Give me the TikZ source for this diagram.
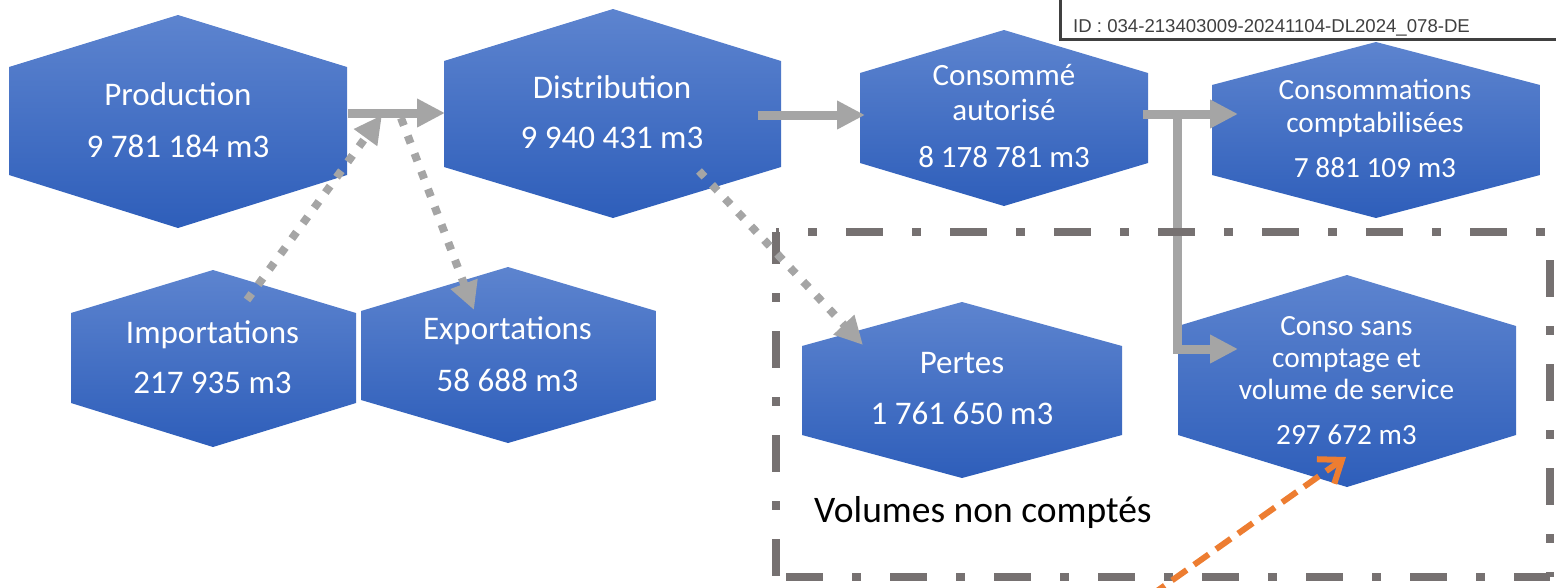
\documentclass[tikz,border=0pt]{standalone}
\usepackage{fontspec}
\setmainfont{Carlito}
\newfontfamily\idfont{Liberation Sans}
\usetikzlibrary{arrows.meta}
\definecolor{hexTop}{RGB}{93,132,207}
\definecolor{hexBot}{RGB}{46,94,186}
\definecolor{arrGrey}{RGB}{165,165,165}
\definecolor{frameGrey}{RGB}{118,113,113}
\definecolor{orangeA}{RGB}{237,125,49}
\definecolor{idGrey}{RGB}{64,64,64}
% name, left, right, cx, ytop, yshoulderTop, yshoulderBottom, ybottom
\newcommand\hexa[8]{%
  \shade[top color=hexTop,bottom color=hexBot] (#2,#6) -- (#4,#5) -- (#3,#6) -- (#3,#7) -- (#4,#8) -- (#2,#7) -- cycle;
  \coordinate (#1) at (#4,{(#5+#8)/2});}
\tikzset{
  lbl/.style={text=white, inner sep=0pt, anchor=base},
  fA/.style={font=\fontsize{33}{33}\selectfont},
  fB/.style={font=\fontsize{31}{31}\selectfont},
  fC/.style={font=\fontsize{29.3}{29.3}\selectfont},
  solidarrow/.style={draw=arrGrey, line width=9pt, -{Triangle[length=28pt,width=27pt]}},
  dotarrow/.style={draw=arrGrey, line width=8pt, dash pattern=on 8pt off 11pt, -{Triangle[length=28pt,width=27pt]}},
  orangearrow/.style={draw=orangeA, line width=6pt, dash pattern=on 18pt off 9pt, -{Straight Barb[length=20pt,width=30pt]}},
  framestyle/.style={draw=frameGrey, line width=8pt, dash pattern=on 37pt off 29pt on 9pt off 29pt}
}
\begin{document}
\begin{tikzpicture}[x=1pt,y=-1pt]
\useasboundingbox (0,0) rectangle (1556,587);
% hexagons
\hexa{prod}{9}{347}{178}{15}{67}{175}{228}
\hexa{dist}{444}{781}{613}{9}{61}{167}{218}
\hexa{cons}{860}{1148}{1004}{30}{73}{163}{206}
\hexa{compt}{1212}{1540}{1376}{42}{85}{175}{218}
\hexa{imp}{71}{356}{213}{270}{313}{403}{447}
\hexa{exp}{361}{656}{508}{267}{311}{400}{443}
\hexa{pertes}{802}{1122}{962}{302}{346}{435}{478}
\hexa{sans}{1178}{1516}{1347}{275}{326}{435}{487}
% texts
\node[lbl,fA] (prodA) at (178,105) {Production};
\node[lbl,fA] (prodB) at (178,157) {9 781 184 m3};
\node[lbl,fA] (distA) at (612,98) {Distribution};
\node[lbl,fA] (distB) at (612,148) {9 940 431 m3};
\node[lbl,fB] (consA) at (1004,85) {Consommé};
\node[lbl,fB] (consB) at (1004,120) {autorisé};
\node[lbl,fB] (consC) at (1004,167) {8 178 781 m3};
\node[lbl,fC] (comptA) at (1375,99) {Consommations};
\node[lbl,fC] (comptB) at (1375,132) {comptabilisées};
\node[lbl,fC] (comptC) at (1375,177) {7 881 109 m3};
\node[lbl,fA] (impA) at (212.5,343) {Importations};
\node[lbl,fA] (impB) at (212.5,393) {217 935 m3};
\node[lbl,fA] (expA) at (507.5,339) {Exportations};
\node[lbl,fA] (expB) at (507.5,391) {58 688 m3};
\node[lbl,fA] (pertA) at (962,373) {Pertes};
\node[lbl,fA] (pertB) at (962,424) {1 761 650 m3};
\node[lbl,fC] (sansA) at (1346.5,335) {Conso sans};
\node[lbl,fC] (sansB) at (1346.5,367) {comptage et};
\node[lbl,fC] (sansC) at (1346.5,399) {volume de service};
\node[lbl,fC] (sansD) at (1346.5,444) {297 672 m3};
% connector end points
\coordinate (prodR) at (348,113);
\coordinate (distL) at (445,113);
\coordinate (distR) at (758,115);
\coordinate (consL) at (865,115);
\coordinate (consR) at (1143,114);
\coordinate (comptL) at (1238,114);
\coordinate (branch) at (1177,110);
\coordinate (sansL) at (1238,349);
\coordinate (impT) at (247,300);
\coordinate (joinA) at (382,115);
\coordinate (joinB) at (401,118);
\coordinate (expT) at (474,310);
\coordinate (distD) at (699,171);
\coordinate (pertT) at (863,345);
\coordinate (orangeS) at (1150,596);
\coordinate (sansT) at (1346,457);
% solid connectors
\draw[solidarrow] (prodR) -- (distL);
\draw[solidarrow] (distR) -- (consL);
\draw[solidarrow] (consR) -- (comptL);
\draw[solidarrow] (branch) |- (sansL);
% frame
\coordinate (fTL) at (776,232);
\coordinate (fTR) at (1550,232);
\coordinate (fBL) at (776,577);
\coordinate (fBR) at (1550,577);
\draw[framestyle, dash phase=34pt] (fTL) -- (fTR);
\draw[framestyle, dash phase=76pt] (fTR) -- (fBR);
\draw[framestyle, dash phase=94pt] (fBL) -- (fBR);
\draw[framestyle, dash phase=5pt] (fTL) -- (fBL);
\node[anchor=base west, inner sep=0pt, font=\fontsize{37.5}{37.5}\selectfont] (vnc) at (814,522) {Volumes non comptés};
% dotted connectors
\draw[dotarrow] (impT) -- (joinA);
\draw[dotarrow] (joinB) -- (expT);
\draw[dotarrow] (distD) -- (pertT);
% orange arrow
\draw[orangearrow] (orangeS) -- (sansT);
% ID box
\draw[line width=3pt, draw=idGrey, fill=white] (1060,-10) rectangle (1570,39);
\node[anchor=base west, inner sep=0pt, text=idGrey, font=\idfont\fontsize{18.6}{18.6}\selectfont] (idtxt) at (1073,32) {ID : 034-213403009-20241104-DL2024\_078-DE};
\end{tikzpicture}
\end{document}
